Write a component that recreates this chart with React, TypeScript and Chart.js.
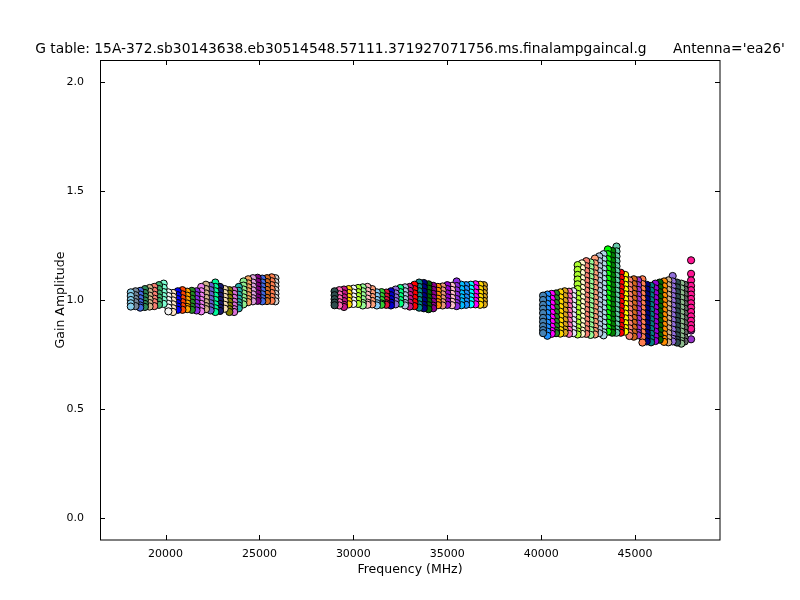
import React, { useEffect, useRef } from "react";
import { Chart, registerables } from "chart.js";

Chart.register(...registerables);

const titleText =
  "G table: 15A-372.sb30143638.eb30514548.57111.371927071756.ms.finalampgaincal.g      Antenna='ea26'";
const xLabel = "Frequency (MHz)";
const yLabel = "Gain Amplitude";
const xTickValues = [20000, 25000, 30000, 35000, 40000, 45000];
const yTickValues = [0.0, 0.5, 1.0, 1.5, 2.0];
const xMin = 16510;
const xMax = 49520;
const yMin = -0.1;
const yMax = 2.1;

// K band spectral windows (MHz) and gain amplitudes per window
const kFreqs = [
  18150, 18400, 18650, 18900, 19150, 19400, 19650, 19900, 20150, 20400, 20650,
  20900, 21150, 21400, 21650, 21900, 22150, 22400, 22650, 22900, 23150, 23400,
  23650, 23900, 24150, 24400, 24650, 24900, 25150, 25400, 25650, 25850,
];
const kAmps = [
  [1.035, 1.018, 1.0, 0.985, 0.97],
  [1.04, 1.022, 1.005, 0.99, 0.972],
  [1.042, 1.025, 1.008, 0.99, 0.975, 0.965],
  [1.05, 1.032, 1.015, 0.998, 0.982, 0.968],
  [1.055, 1.038, 1.02, 1.003, 0.986, 0.97],
  [1.06, 1.042, 1.024, 1.006, 0.99, 0.972],
  [1.068, 1.05, 1.03, 1.012, 0.995, 0.978],
  [1.075, 1.056, 1.036, 1.018, 1.0, 0.982],
  [1.035, 1.018, 1.0, 0.982, 0.965, 0.948],
  [1.032, 1.015, 0.998, 0.98, 0.962, 0.945],
  [1.04, 1.022, 1.004, 0.986, 0.97, 0.955],
  [1.045, 1.026, 1.008, 0.99, 0.972, 0.955],
  [1.038, 1.02, 1.002, 0.984, 0.968, 0.958],
  [1.042, 1.024, 1.006, 0.988, 0.97, 0.955],
  [1.04, 1.022, 1.004, 0.986, 0.968, 0.952],
  [1.06, 1.04, 1.02, 1.0, 0.982, 0.965, 0.948],
  [1.07, 1.05, 1.03, 1.01, 0.99, 0.972, 0.958],
  [1.065, 1.045, 1.025, 1.005, 0.985, 0.968, 0.952],
  [1.08, 1.06, 1.04, 1.02, 1.0, 0.98, 0.962, 0.945],
  [1.06, 1.04, 1.02, 1.0, 0.982, 0.965, 0.95],
  [1.05, 1.032, 1.014, 0.996, 0.978, 0.96],
  [1.045, 1.028, 1.01, 0.992, 0.974, 0.958, 0.945],
  [1.045, 1.028, 1.01, 0.992, 0.975, 0.958, 0.945],
  [1.06, 1.042, 1.024, 1.006, 0.99, 0.975, 0.962],
  [1.085, 1.066, 1.048, 1.03, 1.012, 0.995, 0.98],
  [1.095, 1.076, 1.058, 1.04, 1.022, 1.004, 0.99],
  [1.1, 1.08, 1.062, 1.044, 1.026, 1.008, 0.994],
  [1.102, 1.084, 1.066, 1.048, 1.03, 1.012, 0.996],
  [1.098, 1.08, 1.062, 1.044, 1.026, 1.008, 0.994],
  [1.1, 1.082, 1.064, 1.046, 1.028, 1.01, 0.995],
  [1.104, 1.086, 1.068, 1.05, 1.032, 1.014, 0.996],
  [1.1, 1.082, 1.064, 1.046, 1.028, 1.01, 0.994],
];
const kColors = [
  "#87ceeb", "#778899", "#4169e1", "#2e8b57", "#d2b48c", "#fa8072", "#3cb371", "#7fffd4",
  "#f5f5f5", "#ffe4c4", "#0000ff", "#ff4500", "#ffa500", "#228b22", "#8a2be2", "#ee82ee",
  "#d2b48c", "#6a5acd", "#00fa9a", "#191970", "#f5deb3", "#808000", "#da70d6", "#20b2aa",
  "#90ee90", "#f4a460", "#dda0dd", "#800080", "#4169e1", "#d2691e", "#ff7f50", "#d3d3d3",
];

// Ka band
const kaFreqs = [
  29000, 29250, 29500, 29750, 30000, 30250, 30500, 30750, 31000, 31250, 31500,
  31750, 32000, 32250, 32500, 32750, 33000, 33250, 33500, 33750, 34000, 34250,
  34500, 34750, 35000, 35250, 35500, 35750, 36000, 36250, 36500, 36750, 36950,
];
const kaAmps = [
  [1.04, 1.022, 1.004, 0.988, 0.976],
  [1.045, 1.026, 1.008, 0.99, 0.975],
  [1.048, 1.03, 1.012, 0.995, 0.978, 0.968],
  [1.05, 1.032, 1.014, 0.996, 0.98],
  [1.052, 1.034, 1.016, 0.998, 0.982],
  [1.055, 1.036, 1.018, 1.0, 0.982],
  [1.058, 1.04, 1.022, 1.004, 0.986, 0.975],
  [1.06, 1.042, 1.024, 1.006, 0.988, 0.978],
  [1.05, 1.032, 1.014, 0.996, 0.98],
  [1.035, 1.018, 1.0, 0.985, 0.975],
  [1.036, 1.018, 1.0, 0.984, 0.978],
  [1.034, 1.016, 1.0, 0.985, 0.978],
  [1.04, 1.022, 1.004, 0.988, 0.975],
  [1.048, 1.03, 1.012, 0.995, 0.98],
  [1.055, 1.036, 1.018, 1.0, 0.984],
  [1.058, 1.04, 1.022, 1.004, 0.986, 0.975],
  [1.06, 1.042, 1.024, 1.006, 0.988, 0.97],
  [1.07, 1.05, 1.03, 1.01, 0.99, 0.972],
  [1.08, 1.06, 1.04, 1.02, 1.0, 0.98, 0.965],
  [1.078, 1.058, 1.038, 1.018, 0.998, 0.978, 0.962],
  [1.072, 1.052, 1.032, 1.012, 0.994, 0.976, 0.958],
  [1.065, 1.046, 1.028, 1.01, 0.992, 0.974, 0.962],
  [1.06, 1.042, 1.024, 1.006, 0.99, 0.976],
  [1.062, 1.044, 1.026, 1.008, 0.99, 0.975],
  [1.068, 1.05, 1.03, 1.012, 0.994, 0.978],
  [1.065, 1.046, 1.028, 1.01, 0.992, 0.976],
  [1.085, 1.064, 1.044, 1.024, 1.004, 0.986, 0.972],
  [1.07, 1.05, 1.03, 1.012, 0.994, 0.976],
  [1.068, 1.05, 1.03, 1.012, 0.994, 0.978],
  [1.07, 1.052, 1.034, 1.016, 0.998, 0.98],
  [1.072, 1.054, 1.034, 1.014, 0.996, 0.98],
  [1.07, 1.05, 1.032, 1.014, 0.996, 0.978],
  [1.068, 1.05, 1.032, 1.014, 0.996, 0.98],
];
const kaColors = [
  "#2f4f4f", "#ff69b4", "#c71585", "#ffd700", "#f8f8ff", "#adff2f", "#98fb98", "#ffb6c1",
  "#ffa07a", "#87cefa", "#32cd32", "#dc143c", "#0000cd", "#9370db", "#00ff7f", "#b0c4de",
  "#c71585", "#ff0000", "#008b8b", "#000080", "#006400", "#8b008b", "#ff8c00", "#e9967a",
  "#9400d3", "#ffc0cb", "#8a2be2", "#00bfff", "#1e90ff", "#00ffff", "#ff00ff", "#ffd700",
  "#daa520",
];

// Q band
const qFreqs = [
  40100, 40330, 40560, 40790, 41020, 41250, 41480, 41710, 41940, 42170, 42400,
  42630, 42860, 43090, 43320, 43550, 43780, 44010, 43900, 44240, 44470, 44700,
  44930, 45160, 45390, 45620, 45850, 46080, 46310, 46540, 46770, 47000, 47230,
  47460, 47640, 47980, 47980,
];
const qAmps = [
  [1.02, 1.0, 0.978, 0.96, 0.94, 0.918, 0.9, 0.88, 0.862, 0.848],
  [1.025, 1.003, 0.982, 0.96, 0.94, 0.918, 0.896, 0.875, 0.855, 0.836],
  [1.028, 1.006, 0.985, 0.963, 0.942, 0.92, 0.9, 0.878, 0.858, 0.845],
  [1.03, 1.008, 0.986, 0.965, 0.944, 0.922, 0.9, 0.88, 0.86, 0.848],
  [1.035, 1.012, 0.99, 0.968, 0.946, 0.925, 0.904, 0.882, 0.862, 0.846],
  [1.04, 1.018, 0.996, 0.974, 0.952, 0.93, 0.908, 0.886, 0.865, 0.85],
  [1.038, 1.016, 0.994, 0.972, 0.95, 0.928, 0.906, 0.884, 0.863, 0.845],
  [1.04, 1.018, 0.996, 0.974, 0.952, 0.93, 0.908, 0.886, 0.865, 0.848],
  [1.16, 1.138, 1.115, 1.094, 1.072, 1.05, 1.028, 1.006, 0.985, 0.963, 0.94, 0.918, 0.897, 0.875, 0.856, 0.842],
  [1.168, 1.146, 1.124, 1.1, 1.078, 1.056, 1.034, 1.012, 0.99, 0.968, 0.946, 0.924, 0.902, 0.88, 0.86, 0.845],
  [1.178, 1.155, 1.132, 1.11, 1.088, 1.065, 1.043, 1.02, 0.998, 0.976, 0.954, 0.932, 0.91, 0.888, 0.866, 0.845],
  [1.172, 1.15, 1.128, 1.105, 1.083, 1.06, 1.038, 1.016, 0.994, 0.972, 0.95, 0.928, 0.906, 0.884, 0.862, 0.84],
  [1.19, 1.168, 1.145, 1.122, 1.1, 1.078, 1.055, 1.032, 1.01, 0.988, 0.966, 0.944, 0.922, 0.9, 0.878, 0.858, 0.842],
  [1.2, 1.178, 1.155, 1.132, 1.11, 1.088, 1.065, 1.042, 1.02, 0.998, 0.976, 0.954, 0.932, 0.91, 0.888, 0.866, 0.848],
  [1.21, 1.187, 1.164, 1.142, 1.12, 1.097, 1.074, 1.052, 1.03, 1.007, 0.985, 0.962, 0.94, 0.918, 0.896, 0.874, 0.852, 0.838],
  [1.232, 1.21, 1.187, 1.164, 1.142, 1.12, 1.097, 1.074, 1.052, 1.03, 1.007, 0.985, 0.962, 0.94, 0.918, 0.896, 0.874, 0.855],
  [1.225, 1.202, 1.18, 1.157, 1.134, 1.112, 1.09, 1.067, 1.044, 1.022, 1.0, 0.978, 0.955, 0.932, 0.91, 0.888, 0.866, 0.85],
  [1.245, 1.223, 1.2, 1.178, 1.155, 1.132, 1.11, 1.088, 1.065, 1.042, 1.02, 0.998, 0.976, 0.954, 0.932, 0.91, 0.888, 0.866, 0.85],
  [1.05, 1.028, 1.005, 0.982, 0.96, 0.938, 0.916, 0.894, 0.872, 0.852],
  [1.125, 1.102, 1.08, 1.058, 1.036, 1.014, 0.992, 0.97, 0.948, 0.926, 0.904, 0.882, 0.862, 0.85],
  [1.115, 1.092, 1.07, 1.048, 1.026, 1.004, 0.982, 0.96, 0.938, 0.916, 0.894, 0.872, 0.855],
  [1.09, 1.068, 1.046, 1.024, 1.002, 0.98, 0.958, 0.936, 0.914, 0.892, 0.87, 0.85, 0.835],
  [1.095, 1.073, 1.05, 1.028, 1.006, 0.984, 0.962, 0.94, 0.918, 0.896, 0.874, 0.852, 0.832],
  [1.09, 1.068, 1.046, 1.024, 1.002, 0.98, 0.958, 0.936, 0.914, 0.892, 0.87, 0.85, 0.838],
  [1.095, 1.073, 1.05, 1.028, 1.006, 0.984, 0.962, 0.94, 0.918, 0.896, 0.874, 0.852, 0.83, 0.805],
  [1.07, 1.048, 1.026, 1.004, 0.982, 0.96, 0.938, 0.916, 0.894, 0.872, 0.85, 0.83, 0.81],
  [1.065, 1.043, 1.021, 0.999, 0.977, 0.955, 0.933, 0.911, 0.889, 0.867, 0.845, 0.823, 0.806],
  [1.075, 1.053, 1.031, 1.009, 0.987, 0.965, 0.943, 0.921, 0.899, 0.877, 0.855, 0.833, 0.812],
  [1.08, 1.058, 1.036, 1.014, 0.992, 0.97, 0.948, 0.926, 0.904, 0.882, 0.86, 0.838, 0.818],
  [1.085, 1.063, 1.041, 1.019, 0.997, 0.975, 0.953, 0.931, 0.909, 0.887, 0.865, 0.843, 0.822, 0.808],
  [1.09, 1.068, 1.046, 1.024, 1.002, 0.98, 0.958, 0.936, 0.914, 0.892, 0.87, 0.848, 0.826, 0.806],
  [1.11, 1.085, 1.062, 1.04, 1.018, 0.996, 0.974, 0.952, 0.93, 0.908, 0.886, 0.864, 0.842, 0.822, 0.81],
  [1.08, 1.058, 1.036, 1.014, 0.992, 0.97, 0.948, 0.926, 0.904, 0.882, 0.86, 0.838, 0.818, 0.805],
  [1.075, 1.053, 1.031, 1.009, 0.987, 0.965, 0.943, 0.921, 0.899, 0.877, 0.855, 0.833, 0.812, 0.8],
  [1.07, 1.048, 1.026, 1.004, 0.982, 0.96, 0.938, 0.916, 0.894, 0.872, 0.85, 0.828, 0.81],
  [1.182, 1.12, 1.09, 1.065, 1.045, 1.025, 1.005, 0.985, 0.965, 0.945, 0.925, 0.905, 0.885, 0.868],
  [0.86, 0.82],
];
const qColors = [
  "#4682b4", "#1e90ff", "#ff00ff", "#228b22", "#ffd700", "#daa520", "#ff69b4", "#e6e6fa",
  "#adff2f", "#fffacd", "#fa8072", "#98fb98", "#ffa07a", "#b0c4de", "#add8e6", "#00ff00",
  "#008000", "#66cdaa", "#8b0000", "#ff0000", "#ffff00", "#fa8072", "#d2691e", "#9932cc",
  "#ff7f50", "#000080", "#008080", "#9400d3", "#006400", "#ff8c00", "#d2b48c", "#9370db",
  "#2f4f4f", "#8fbc8f", "#696969", "#ff1493", "#9932cc",
];

const FONT = '"DejaVu Sans", "Bitstream Vera Sans", sans-serif';

const decorPlugin = {
  id: "decor",
  afterDatasetsDraw(chart: any) {
    const { ctx, chartArea: a, scales } = chart;
    const xs = scales.x;
    const ys = scales.y;
    ctx.save();
    ctx.strokeStyle = "#000";
    ctx.lineWidth = 1;
    ctx.strokeRect(a.left + 0.5, a.top + 0.5, a.right - a.left - 0.5, a.bottom - a.top - 0.5);
    ctx.beginPath();
    const tl = 5;
    for (const v of xTickValues) {
      const px = Math.round(xs.getPixelForValue(v)) + 0.5;
      ctx.moveTo(px, a.bottom);
      ctx.lineTo(px, a.bottom - tl);
      ctx.moveTo(px, a.top);
      ctx.lineTo(px, a.top + tl);
    }
    for (const v of yTickValues) {
      const py = Math.round(ys.getPixelForValue(v)) + 0.5;
      ctx.moveTo(a.left, py);
      ctx.lineTo(a.left + tl, py);
      ctx.moveTo(a.right, py);
      ctx.lineTo(a.right - tl, py);
    }
    ctx.stroke();

    ctx.fillStyle = "#000";
    // title, centred over the axes, allowed to overflow the canvas
    ctx.font = `13px ${FONT}`;
    const w13 = ctx.measureText(titleText).width;
    const size = 13 * 750 / w13;
    ctx.font = `${size.toFixed(2)}px ${FONT}`;
    ctx.textAlign = "center";
    ctx.textBaseline = "alphabetic";
    ctx.fillText(titleText, (a.left + a.right) / 2, 53);

    ctx.font = `12.5px ${FONT}`;
    ctx.textBaseline = "middle";
    ctx.fillText(xLabel, (a.left + a.right) / 2, 570);

    ctx.translate(61, (a.top + a.bottom) / 2);
    ctx.rotate(-Math.PI / 2);
    ctx.fillText(yLabel, 0, 0);
    ctx.restore();
  },
};

export default function App() {
  const ref = useRef<HTMLCanvasElement | null>(null);

  useEffect(() => {
    if (!ref.current) return;
    const bands = [
      { freqs: kFreqs, amps: kAmps, colors: kColors },
      { freqs: kaFreqs, amps: kaAmps, colors: kaColors },
      { freqs: qFreqs, amps: qAmps, colors: qColors },
    ];
    const datasets: any[] = [];
    bands.forEach((b) => {
      b.freqs.forEach((f, i) => {
        datasets.push({
          data: b.amps[i].map((amp) => ({ x: f, y: amp })),
          backgroundColor: b.colors[i],
          borderColor: "#000",
          pointBorderWidth: 1,
          pointRadius: 3.6,
          pointHoverRadius: 3.6,
          showLine: false,
        });
      });
    });

    const chart = new Chart(ref.current, {
      type: "scatter",
      data: { datasets },
      options: {
        animation: false,
        responsive: false,
        events: [],
        layout: { padding: { left: 0, top: 60, right: 80, bottom: 0 } },
        plugins: {
          legend: { display: false },
          tooltip: { enabled: false },
          title: { display: false },
        },
        scales: {
          x: {
            type: "linear",
            min: xMin,
            max: xMax,
            grid: { display: false },
            border: { display: false },
            ticks: {
              color: "#000",
              font: { family: FONT, size: 11 },
              padding: 0,
              maxRotation: 0,
              autoSkip: false,
              callback: (v: any) => String(v),
            },
            afterBuildTicks: (s: any) => {
              s.ticks = xTickValues.map((v) => ({ value: v }));
            },
            afterFit: (s: any) => {
              s.height = 60;
            },
          },
          y: {
            type: "linear",
            min: yMin,
            max: yMax,
            grid: { display: false },
            border: { display: false },
            ticks: {
              color: "#000",
              font: { family: FONT, size: 11 },
              padding: 8,
              autoSkip: false,
              callback: (v: any) => Number(v).toFixed(1),
            },
            afterBuildTicks: (s: any) => {
              s.ticks = yTickValues.map((v) => ({ value: v }));
            },
            afterFit: (s: any) => {
              s.width = 100;
            },
          },
        },
      },
      plugins: [decorPlugin],
    });
    return () => chart.destroy();
  }, []);

  return (
    <div style={{ position: "fixed", left: 0, top: 0, width: 800, height: 600, background: "#fff" }}>
      <canvas ref={ref} width={800} height={600} style={{ display: "block" }} />
    </div>
  );
}
